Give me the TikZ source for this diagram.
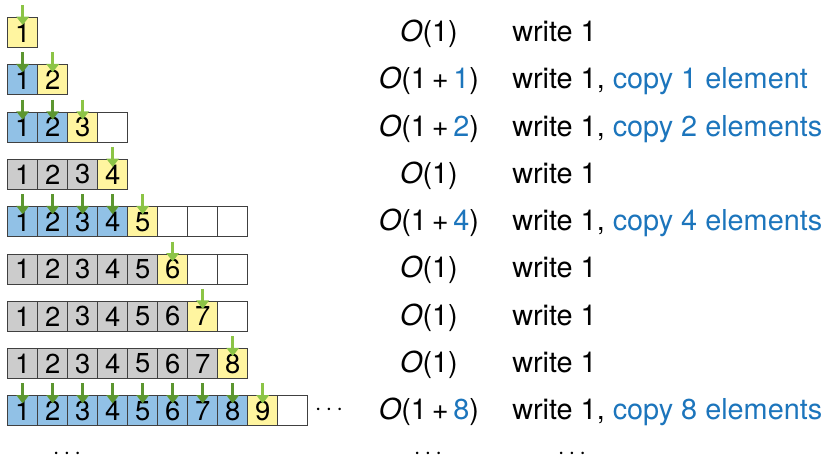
\documentclass[tikz,border=0pt]{standalone}
\usepackage{fontspec}
\setmainfont{TeX Gyre Heros}
\usetikzlibrary{arrows.meta}
\definecolor{cellgray}{RGB}{204,204,204}
\definecolor{cellblue}{RGB}{145,193,230}
\definecolor{cellyellow}{RGB}{255,245,160}
\definecolor{arrowlight}{RGB}{140,196,70}
\definecolor{arrowdark}{RGB}{92,150,48}
\definecolor{copyblue}{RGB}{28,117,188}
\begin{document}
\begin{tikzpicture}[x=0.025cm, y=-0.025cm,
    cell/.style={draw=black!75, line width=0.6pt, minimum size=0.75cm, inner sep=0pt,
                 font=\fontsize{19.5}{22}\selectfont},
    label/.style={anchor=base, inner sep=0pt, font=\fontsize{20.5}{24}\selectfont},
    push/.style={-{Triangle[width=0.31cm,length=0.21cm]}, line width=2.2pt}]
    \clip (0,0) rectangle (827,457);

    % array after each append
    \foreach \r/\len/\kind in {1/1/cellgray, 2/2/cellblue, 3/4/cellblue, 4/4/cellgray,
                               5/8/cellblue, 6/8/cellgray, 7/8/cellgray, 8/8/cellgray, 9/10/cellblue} {
        \foreach \c in {1,...,\len} {
            \ifnum\c<\r \def\fc{\kind}\else\ifnum\c=\r \def\fc{cellyellow}\else\def\fc{white}\fi\fi
            \node [cell, fill=\fc] (c\r-\c) at ({22.7+30*(\c-1)}, {32.5+47.3*(\r-1)}) {\ifnum\c>\r\else\c\fi};
        }
    }
    \node (more) at (329,410) {\fontsize{16}{20}\selectfont$\cdots$};

    % copied elements
    \foreach \r/\n in {2/1, 3/2, 5/4, 9/8} {
        \foreach \c in {1,...,\n} {
            \draw [push, arrowdark] (c\r-\c.north) ++(0,-12) -- ++(0,20);
        }
    }
    % new element
    \foreach \r in {1,...,9} {
        \draw [push, arrowlight] (c\r-\r.north) ++(0,-12) -- ++(0,20);
    }

    % cost of each append
    \foreach \r in {1,4,6,7,8} {
        \node [label] (cost\r) at (429, {41.5+47.3*(\r-1)}) {\textit{O}(1)};
        \node [label, anchor=base west] (op\r) at (512, {41.5+47.3*(\r-1)}) {write 1};
    }
    \foreach \r/\n/\word in {2/1/element, 3/2/elements, 5/4/elements, 9/8/elements} {
        \node [label] (cost\r) at (429, {41.5+47.3*(\r-1)}) {\textit{O}(1\,+\,\textcolor{copyblue}{\n})};
        \node [label, anchor=base west] (op\r) at (512, {41.5+47.3*(\r-1)})
            {write 1, \textcolor{copyblue}{copy \n\ \word}};
    }

    % and so on
    \node (dotsa) at (67,454) {\fontsize{18}{20}\selectfont$\cdots$};
    \node (dotsb) at (428,454) {\fontsize{18}{20}\selectfont$\cdots$};
    \node (dotsc) at (572,454) {\fontsize{18}{20}\selectfont$\cdots$};
\end{tikzpicture}
\end{document}
